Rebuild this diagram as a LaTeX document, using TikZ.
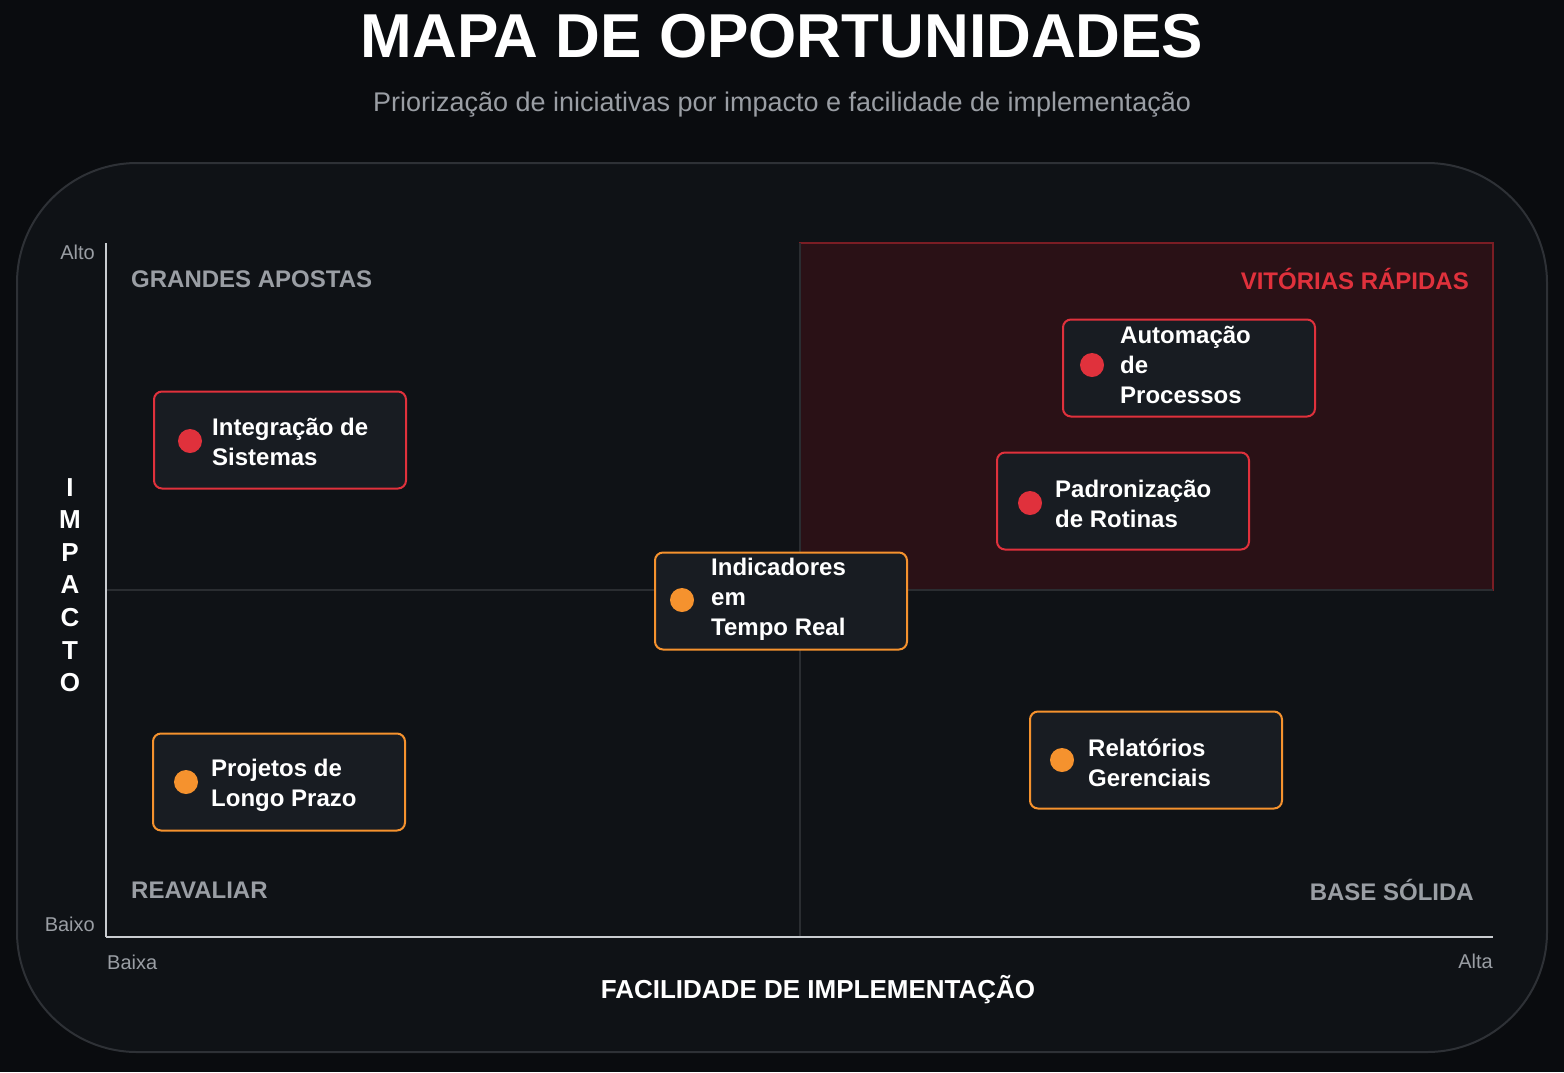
\documentclass[tikz,border=0pt]{standalone}
\usepackage{fontspec}
\setmainfont{Liberation Sans}
\usetikzlibrary{positioning}
\definecolor{bgdark}{HTML}{0A0C0F}
\definecolor{panel}{HTML}{0F1216}
\definecolor{panelline}{HTML}{2E3136}
\definecolor{axis}{HTML}{C9CCD0}
\definecolor{grid}{HTML}{2A2D31}
\definecolor{quick}{HTML}{2A1116}
\definecolor{quickline}{HTML}{7A1D24}
\definecolor{cardfill}{HTML}{181C22}
\definecolor{hotred}{HTML}{E0313C}
\definecolor{warmorange}{HTML}{F5922E}
\definecolor{mutedgray}{HTML}{9A9EA4}

\begin{document}
\begin{tikzpicture}[
    x=1pt, y=-1pt,
    card/.style={
      rectangle,
      rounded corners=8pt,
      minimum width=252pt,
      minimum height=97pt,
      fill=cardfill,
      line width=2pt
    },
    redcard/.style={card, draw=hotred},
    orangecard/.style={card, draw=warmorange},
    dot/.style={circle, inner sep=0pt, minimum size=24pt},
    cardtext/.style={
      anchor=west,
      align=left,
      text=white,
      font=\fontsize{24}{30}\selectfont\bfseries,
      inner sep=0pt
    },
    quadrant/.style={
      font=\fontsize{24}{28}\selectfont\bfseries,
      text=mutedgray,
      inner sep=0pt
    },
    ticklabel/.style={
      font=\fontsize{20}{24}\selectfont,
      text=mutedgray,
      inner sep=0pt
    }
  ]

  % Fundo
  \fill[bgdark] (0,0) rectangle (1564,1072);
  \useasboundingbox (0,0) rectangle (1564,1072);

  % Painel
  \draw[panelline, fill=panel, line width=2pt, rounded corners=120pt]
    (17,163) rectangle (1547,1052);

  % Título
  \node[text=white, font=\fontsize{62}{70}\selectfont\bfseries] (title) at (782,36) {MAPA DE OPORTUNIDADES};
  \node[text=mutedgray, font=\fontsize{27}{32}\selectfont] (subtitle) at (782,105)
    {Priorização de iniciativas por impacto e facilidade de implementação};

  % Quadrante de vitórias rápidas
  \draw[quickline, fill=quick, line width=1.5pt] (800,243) rectangle (1493,590);

  % Linhas centrais
  \coordinate (midtop) at (800,243);
  \coordinate (midbottom) at (800,937);
  \coordinate (midleft) at (106,590);
  \coordinate (midright) at (1493,590);
  \draw[grid, line width=2pt] (midtop) -- (midbottom);
  \draw[grid, line width=2pt] (midleft) -- (midright);

  % Eixos
  \coordinate (origin) at (106,937);
  \coordinate (ytop) at (106,243);
  \coordinate (xend) at (1493,937);
  \draw[axis, line width=2.5pt] (origin) -- (ytop);
  \draw[axis, line width=2.5pt] (origin) -- (xend);

  \node[ticklabel, anchor=east] (alto) at (95,252) {Alto};
  \node[ticklabel, anchor=east] (baixo) at (95,924) {Baixo};
  \node[ticklabel, anchor=west] (baixa) at (107,962) {Baixa};
  \node[ticklabel, anchor=east] (alta) at (1493,961) {Alta};

  \node[text=white, font=\fontsize{26}{30}\selectfont\bfseries] (xlabel) at (818,990)
    {FACILIDADE DE IMPLEMENTAÇÃO};
  \node[text=white, align=center, inner sep=0pt,
        font=\fontsize{26}{32.6}\selectfont\bfseries] (ylabel) at (70,585)
    {I\\M\\P\\A\\C\\T\\O};

  % Rótulos dos quadrantes
  \node[quadrant, anchor=west] (apostas) at (131,279) {GRANDES APOSTAS};
  \node[quadrant, anchor=east, text=hotred] (vitorias) at (1469,279) {VITÓRIAS RÁPIDAS};
  \node[quadrant, anchor=west] (reavaliar) at (131,890) {REAVALIAR};
  \node[quadrant, anchor=east] (base) at (1474,890) {BASE SÓLIDA};

  % Iniciativas
  \node[redcard] (integracao) at (280,440) {};
  \node[dot, fill=hotred] (integracaodot) at (190,441) {};
  \node[cardtext] at (212,442) {Integração de\\Sistemas};

  \node[redcard] (automacao) at (1189,368) {};
  \node[dot, fill=hotred] (automacaodot) at (1092,365) {};
  \node[cardtext] at (1120,365) {Automação\\de\\Processos};

  \node[redcard] (padronizacao) at (1123,501) {};
  \node[dot, fill=hotred] (padronizacaodot) at (1030,503) {};
  \node[cardtext] at (1055,504) {Padronização\\de Rotinas};

  \node[orangecard] (indicadores) at (781,601) {};
  \node[dot, fill=warmorange] (indicadoresdot) at (682,600) {};
  \node[cardtext] at (711,599) {Indicadores\\em\\Tempo Real};

  \node[orangecard] (projetos) at (279,782) {};
  \node[dot, fill=warmorange] (projetosdot) at (186,782) {};
  \node[cardtext] at (211,785) {Projetos de\\Longo Prazo};

  \node[orangecard] (relatorios) at (1156,760) {};
  \node[dot, fill=warmorange] (relatoriosdot) at (1062,760) {};
  \node[cardtext] at (1088,763) {Relatórios\\Gerenciais};

\end{tikzpicture}
\end{document}
